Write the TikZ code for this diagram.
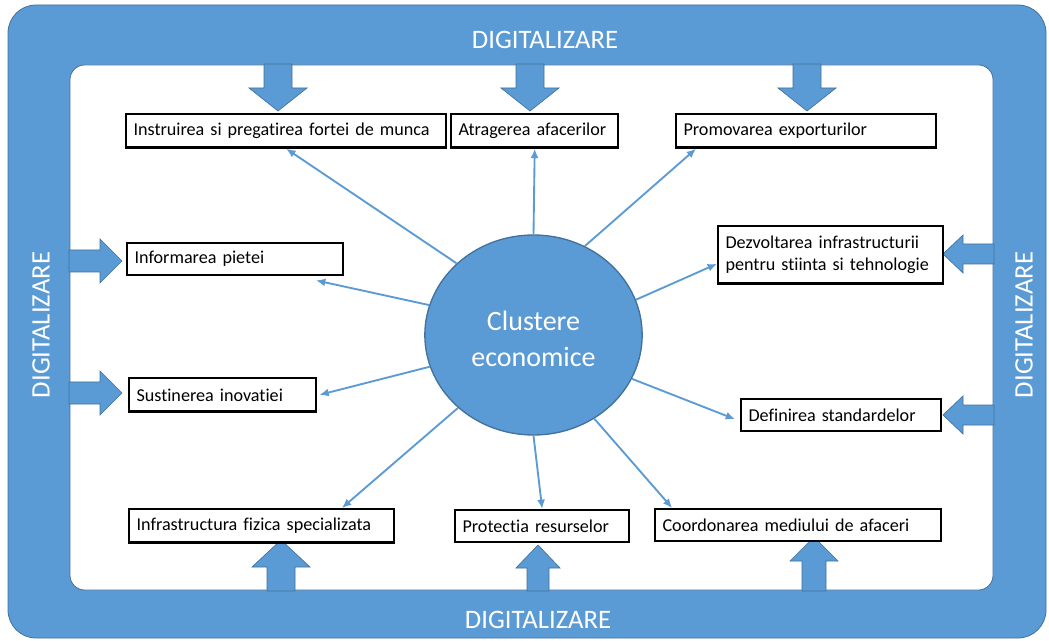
\documentclass[tikz,border=0pt]{standalone}
\usepackage{fontspec}
\setmainfont[RawFeature=-liga]{Carlito}
\usetikzlibrary{shapes.geometric,arrows.meta,calc}
\definecolor{digblue}{HTML}{5B9BD5}
\definecolor{digedge}{HTML}{41719C}
\begin{document}
\begin{tikzpicture}[x=0.75pt,y=-0.75pt,
    box/.style={draw=black,line width=1.8pt,fill=white,anchor=north west,
      inner xsep=5.5pt,inner ysep=0pt,minimum height=25pt,align=left,
      font=\fontsize{13.6}{16}\selectfont},
    blk/.style={fill=digblue,draw=digedge,line width=0.5pt},
    conn/.style={draw=digblue,line width=1.4pt,-{Latex[length=7pt,width=6pt]}},
    dig/.style={text=white,font=\fontsize{20}{24}\selectfont},
    clu/.style={ellipse,fill=digblue,draw=digedge,line width=1pt,
      minimum width=163pt,minimum height=150pt,inner sep=0pt},
    clutext/.style={text=white,align=center,yshift=-3pt,
      font=\fontsize{21}{27}\selectfont}]
    \useasboundingbox (0,0) rectangle (1049,641);
    \fill[digblue,draw=digedge,line width=0.6pt,rounded corners=21pt] (8,5) rectangle (1046,638);
    \fill[white,draw=digedge,line width=0.6pt,rounded corners=11pt] (70,65) rectangle (993,590);
    % block arrows from the frame
    \foreach \cx in {278,530,807}
      \draw[blk] (\cx-14,64) -- (\cx-14,88) -- (\cx-29,88) -- (\cx,111) -- (\cx+29,88) -- (\cx+14,88) -- (\cx+14,64) -- cycle;
    \foreach \cy in {261,393}
      \draw[blk] (69,\cy-11) -- (100,\cy-11) -- (100,\cy-22) -- (122,\cy) -- (100,\cy+22) -- (100,\cy+11) -- (69,\cy+11) -- cycle;
    \foreach \cy in {254,415}
      \draw[blk] (994,\cy-10) -- (963,\cy-10) -- (963,\cy-19) -- (943,\cy) -- (963,\cy+19) -- (963,\cy+10) -- (994,\cy+10) -- cycle;
    \foreach \cx/\tip/\base/\hh/\sh in {281/540/567/29/14,538/545/568/22/11,814/537/561/24/12}
      \draw[blk] (\cx-\sh,591) -- (\cx-\sh,\base) -- (\cx-\hh,\base) -- (\cx,\tip) -- (\cx+\hh,\base) -- (\cx+\sh,\base) -- (\cx+\sh,591) -- cycle;
    \node[dig] (digtop) at (545,40) {DIGITALIZARE};
    \node[dig] (digbot) at (538,620) {DIGITALIZARE};
    \node[dig,rotate=90] (digleft) at (41,325) {DIGITALIZARE};
    \node[dig,rotate=90] (digright) at (1024,325) {DIGITALIZARE};
    % boxes
    \node[box,text width=229pt] (inst) at (125,113) {Instruirea si pregatirea fortei de munca};
    \node[box,text width=114.25pt] (atr) at (450,113) {Atragerea afacerilor};
    \node[box,text width=184pt] (prom) at (675,113) {Promovarea exporturilor};
    \node[box,text width=151pt,minimum height=24pt] (inf) at (126,242) {Informarea pietei};
    \node[box,text width=157.75pt,minimum height=43pt] (dez) at (717,225) {Dezvoltarea infrastructurii\\pentru stiinta si tehnologie};
    \node[box,text width=129.25pt] (sus) at (128,377) {Sustinerea inovatiei};
    \node[box,text width=139pt,minimum height=24pt] (def) at (740,398) {Definirea standardelor};
    \node[box,text width=187.75pt] (infr) at (128,508) {Infrastructura fizica specializata};
    \node[box,text width=119.5pt,minimum height=24pt] (prot) at (454,509) {Protectia resurselor};
    \node[box,text width=203.5pt,minimum height=24pt] (coord) at (654,508) {Coordonarea mediului de afaceri};
    \node[clu,label={[clutext]center:Clustere\\economice}] (clu) at (533.5,335) {};
    % connectors
    \draw[conn] (clu.137) -- (inst.south);
    \draw[conn] (clu.90) -- (atr.south);
    \draw[conn] (clu.60) -- ($(prom.south west)!0.08!(prom.south east)$);
    \draw[conn] (clu.164) -- ($(inf.south west)!0.87!(inf.south east)+(0,4)$);
    \draw[conn] (clu.197) -- ($(sus.east)+(2,0)$);
    \draw[conn] (clu.19) -- ($(dez.north west)!0.65!(dez.south west)$);
    \draw[conn] (clu.336) -- ($(def.west)+(-5,4)$);
    \draw[conn] (clu.224) -- ($(infr.north west)!0.8!(infr.north east)$);
    \draw[conn] (clu.270) -- (prot.north);
    \draw[conn] (clu.306) -- ($(coord.north west)!0.063!(coord.north east)$);
\end{tikzpicture}
\end{document}
